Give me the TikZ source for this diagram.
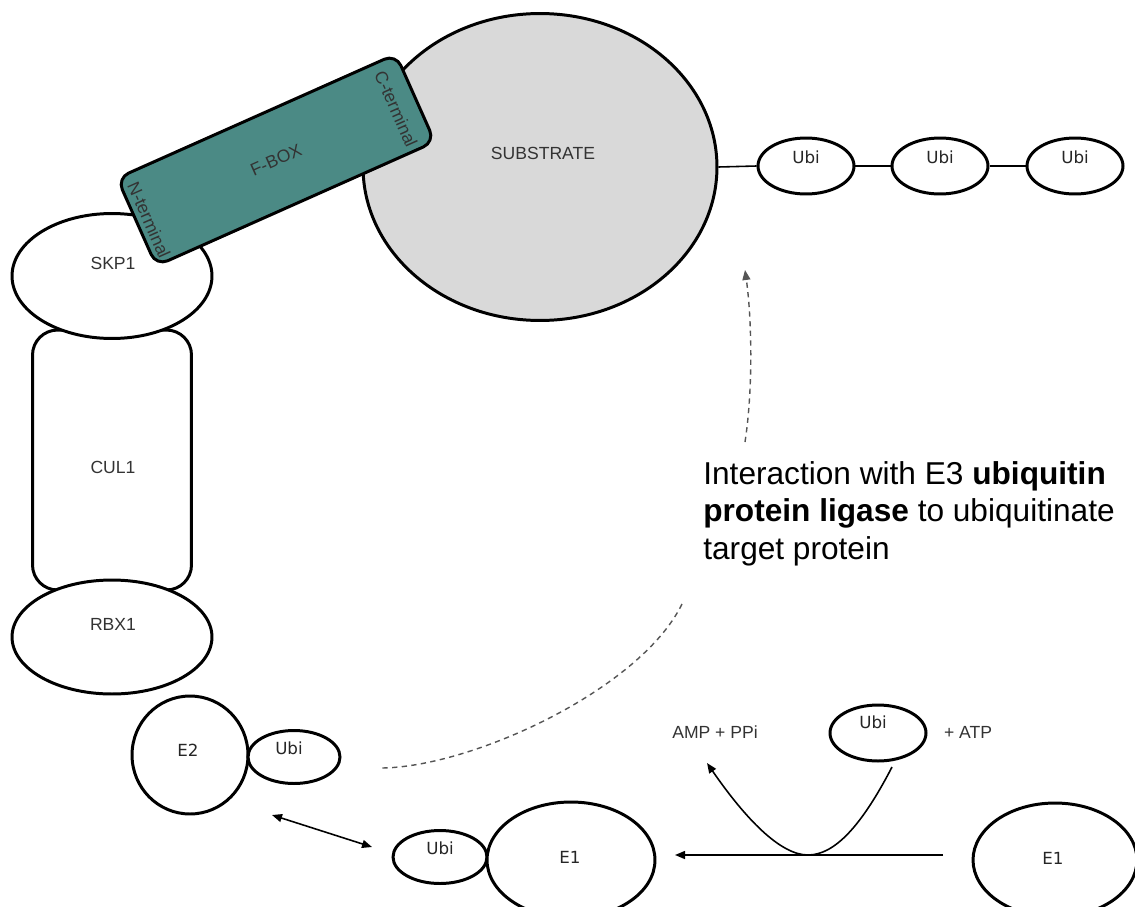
\documentclass[tikz,border=0pt]{standalone}
\usepackage{fontspec}
\setmainfont{Liberation Sans}
\newfontfamily\ubifont{DejaVu Sans}
\usetikzlibrary{arrows.meta, shapes.geometric, calc}
\definecolor{fteal}{HTML}{4B8A85}
\definecolor{subgray}{HTML}{D9D9D9}
\definecolor{txtgray}{HTML}{333333}
\definecolor{dashgray}{HTML}{555555}

\tikzset{
  blob/.style={draw, ellipse, line width=1.7pt, fill=white, inner sep=0pt},
  ubi/.style={blob, minimum width=1.92cm, minimum height=1.12cm},
  lbl/.style={text=txtgray, font=\fontsize{10}{12}\selectfont, inner sep=0pt},
  ubilbl/.style={text=black!85, font=\ubifont\fontsize{9.5}{11}\selectfont, inner sep=0pt},
  link/.style={line width=0.9pt},
  dashlink/.style={line width=0.8pt, dashgray, dash pattern=on 3pt off 2.5pt}
}

\begin{document}
\begin{tikzpicture}[x=0.02cm, y=-0.02cm, >={Triangle[length=2mm, width=1.6mm]}]
\useasboundingbox (0,0) rectangle (1135,906);

% SCF scaffold: CUL1 between SKP1 and RBX1, E2 hanging below
\node[draw, line width=1.7pt, rounded corners=0.5cm, minimum width=3.18cm, minimum height=5.2cm, inner sep=0pt] (cul) at (112,460) {};
\node[blob, minimum width=4cm, minimum height=2.5cm] (skp) at (112,276) {};
\node[blob, minimum width=4cm, minimum height=2.28cm] (rbx) at (112,637) {};
\node[blob, minimum width=2.32cm, minimum height=2.36cm] (e2) at (190,755) {};
\node[ubi, minimum width=1.84cm, minimum height=1.06cm] (ubie2) at (294,757) {};

\node[lbl] (skptxt) at (113,263) {SKP1};
\node[lbl] (cultxt) at (113,467) {CUL1};
\node[lbl] (rbxtxt) at (113,624) {RBX1};
\node[ubilbl] (e2txt) at (188,750) {E2};
\node[ubilbl] (ubie2txt) at (289,748) {Ubi};

% substrate and the poly-Ubi chain
\node[blob, fill=subgray, minimum width=7.08cm, minimum height=6.14cm] (sub) at (540,167) {};
\node[lbl] (subtxt) at (543,153) {SUBSTRATE};
\foreach \i/\xc in {1/806, 2/940, 3/1075} {
  \node[ubi] (ubi\i) at (\xc,166) {};
  \node[ubilbl] (ubitxt\i) at (\xc,157) {Ubi};
}
\draw[link] (sub.east) -- (ubi1.west);
\draw[link] (ubi1) -- (ubi2);
\draw[link] (ubi2) -- (ubi3);

% F-box bridging SKP1 and substrate
\node[draw, line width=1.7pt, fill=fteal, rounded corners=0.25cm, rotate=24, minimum width=6.1cm, minimum height=1.92cm] (fbox) at (276,160) {};
\node[lbl, rotate=24] (fboxtxt) at (fbox.center) {F-BOX};
\node[lbl, rotate=-66] (nterm) at (149,220) {N-terminal};
\node[lbl, rotate=-66] (cterm) at (396,109) {C-terminal};

% E1 activation
\node[ubi, minimum width=1.88cm, minimum height=1.06cm] (ubie1) at (440,857) {};
\node[blob, minimum width=3.36cm, minimum height=2.32cm] (e1a) at (571,860) {};
\node[ubi] (ubifree) at (878,733) {};
\node[blob, minimum width=3.28cm, minimum height=2.28cm] (e1b) at (1055,860) {};

\node[ubilbl] (ubie1txt) at (440,848) {Ubi};
\node[ubilbl] (e1atxt) at (570,857) {E1};
\node[ubilbl] (ubifreetxt) at (873,722) {Ubi};
\node[ubilbl] (e1btxt) at (1053,858) {E1};
\node[lbl] (amptxt) at (715,732) {AMP + PPi};
\node[lbl] (atptxt) at (968,732) {+ ATP};

\coordinate (rxnin) at (943,855);
\coordinate (rxnout) at (675,855);
\coordinate (dip) at (808,855);
\coordinate (atpin) at (892,767);
\coordinate (ampout) at (707,763);
\draw[link, ->] (rxnin) -- (rxnout);
\draw[link, ->] (atpin) .. controls (862,825) and (835,855) .. (dip)
  .. controls (780,855) and (745,818) .. (ampout);

% E2 <-> E1 transfer
\coordinate (e2tip) at (272,815);
\coordinate (e1tip) at (372,847);
\draw[link, <->] (e2tip) -- (e1tip);

% route to the E3 ligase
\coordinate (dashlow) at (380,768);
\coordinate (dashmid) at (682,604);
\coordinate (dashup) at (745,442);
\coordinate (dashtip) at (745,270);
\draw[dashlink] (dashmid) .. controls (640,690) and (470,768) .. (dashlow);
\draw[dashlink, ->] (dashup) .. controls (753,390) and (752,320) .. (dashtip);

\node[anchor=north west, align=left, inner sep=0pt, font=\fontsize{18}{21.4}\selectfont] (e3note) at (703,461)
  {Interaction with E3 \textbf{ubiquitin}\\ \textbf{protein ligase} to ubiquitinate\\ target protein};

\end{tikzpicture}
\end{document}
